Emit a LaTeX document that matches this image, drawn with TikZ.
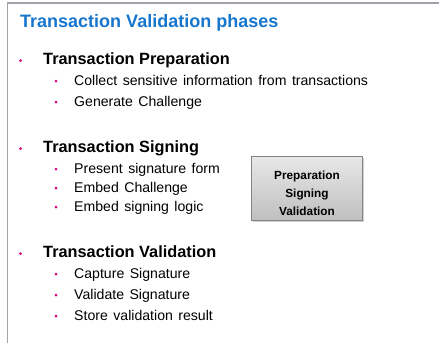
\documentclass[tikz,border=0pt]{standalone}
\usepackage{fontspec}
\setmainfont{Liberation Sans}
\newfontfamily\itemfont[WordSpace=1.4]{Liberation Sans}
\usetikzlibrary{shadows}
\definecolor{titleblue}{RGB}{22,118,206}
\definecolor{bulletpink}{RGB}{220,0,120}
\definecolor{framegray}{RGB}{160,164,170}
\tikzset{
  x=1pt, y=-1pt,
  title/.style={anchor=base west, inner sep=0pt, text=titleblue, font=\fontsize{18}{20}\selectfont\bfseries},
  head/.style={anchor=base west, inner sep=0pt, font=\fontsize{16.3}{18}\selectfont\bfseries},
  item/.style={anchor=base west, inner sep=0pt, font=\itemfont\fontsize{14.1}{16}\selectfont},
  dotmark/.style={fill=bulletpink, draw=none, minimum size=3pt, inner sep=0pt, circle},
  phasebox/.style={draw=framegray!80!black, line width=0.4pt, top color=gray!18, bottom color=gray!50,
    minimum width=111pt, minimum height=64pt, inner sep=0pt,
    drop shadow={shadow xshift=1.5pt, shadow yshift=-2pt, opacity=0.35}},
  boxtext/.style={anchor=base, inner sep=0pt, font=\fontsize{11.8}{13}\selectfont\bfseries}
}
\begin{document}
\begin{tikzpicture}
  \useasboundingbox (0,0) rectangle (439,343);
  \fill[white] (0,0) rectangle (439,343);
  % slide frame
  \draw[framegray, line width=1.3pt] (7.5,343) -- (7.5,3) -- (439,3);

  % title
  \node[title] (ttl) at (20,27) {Transaction Validation phases};

  % section 1
  \node[dotmark] (b1) at (20.5,60.5) {};
  \node[head] (h1) at (43,64) {Transaction Preparation};
  \node[dotmark] (b11) at (56,81) {};
  \node[item] (i11) at (74,85) {Collect sensitive information from transactions};
  \node[dotmark] (b12) at (56,102) {};
  \node[item] (i12) at (74,106) {Generate Challenge};

  % section 2
  \node[dotmark] (b2) at (20.5,148.5) {};
  \node[head] (h2) at (43,152) {Transaction Signing};
  \node[dotmark] (b21) at (56,169) {};
  \node[item] (i21) at (74,173) {Present signature form};
  \node[dotmark] (b22) at (56,188) {};
  \node[item] (i22) at (74,192) {Embed Challenge};
  \node[dotmark] (b23) at (56,207) {};
  \node[item] (i23) at (74,211) {Embed signing logic};

  % section 3
  \node[dotmark] (b3) at (20.5,253.5) {};
  \node[head] (h3) at (43,257) {Transaction Validation};
  \node[dotmark] (b31) at (56,274) {};
  \node[item] (i31) at (74,278) {Capture Signature};
  \node[dotmark] (b32) at (56,295) {};
  \node[item] (i32) at (74,299) {Validate Signature};
  \node[dotmark] (b33) at (56,316) {};
  \node[item] (i33) at (74,320) {Store validation result};

  % phase summary box
  \node[phasebox] (box) at (307,188) {};
  \node[boxtext] (p1) at (307,179) {Preparation};
  \node[boxtext] (p2) at (307,197) {Signing};
  \node[boxtext] (p3) at (307,215) {Validation};
\end{tikzpicture}
\end{document}
